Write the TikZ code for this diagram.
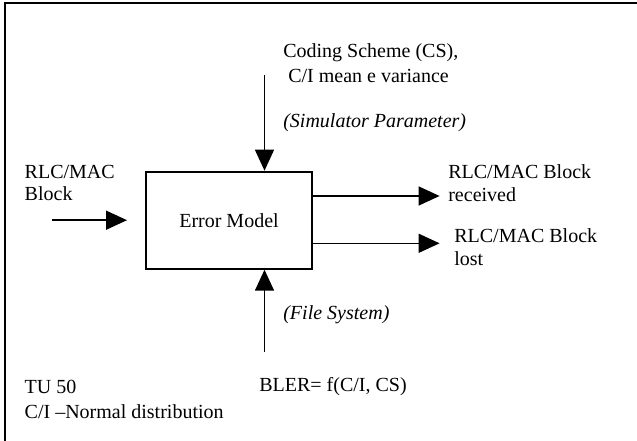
\documentclass[tikz,border=0pt]{standalone}
\usepackage{fontspec}
\setmainfont{Liberation Serif}
\usetikzlibrary{arrows.meta}
\usetikzlibrary{positioning}

\tikzset{
	flow/.style={line width=0.9pt,-{Triangle[length=12.6pt,width=11.4pt]}},
	txt/.style={anchor=west,inner sep=0pt,align=left,font=\fontsize{12}{13.6}\selectfont},
	errbox/.style={draw,line width=1.2pt,inner sep=0pt,minimum width=99.6pt,minimum height=58.2pt,font=\fontsize{12}{13.6}\selectfont}
}

\begin{document}
\begin{tikzpicture}
			[x=0.6pt,y=-0.6pt]
			\useasboundingbox (0,0) rectangle (637,441);
			% frame (only top and left edges show)
			\draw[line width=1.2pt] (5,441) -- (5,3.5) -- (637,3.5);
			
			\node[errbox] (model) at (229,220.2) {Error Model};
			
			\node[txt] (cs) at (283,63.4) {Coding Scheme (CS),\\[1.4pt]\hspace{3pt}C/I mean e variance};
			\node[txt] (sim) at (283,122.7) {\itshape (Simulator Parameter)};
			\node[txt] (blk) at (24.4,183) {RLC/MAC\\Block};
			\node[txt] (rcv) at (448,183) {RLC/MAC Block\\received};
			\node[txt] (lost) at (454,247) {RLC/MAC Block\\lost};
			\node[txt] (fs) at (283,314.3) {\itshape (File System)};
			\node[txt] (tu) at (24.4,399.5) {TU 50\\[1.6pt]C/I --Normal distribution};
			\node[txt] (bler) at (259,386.7) {BLER= f(C/I, CS)};
			
			\coordinate (top) at (264.5,75);
			\coordinate (bot) at (264.5,351.7);
			\coordinate (in1) at (51.6,220.2);
			\coordinate (in2) at (127,220.2);
			\coordinate (out1) at (439.6,196);
			\coordinate (out2) at (439.6,243.3);
			
			\draw[flow] (top) -- (top |- model.north);
			\draw[flow] (bot) -- (bot |- model.south);
			\draw[flow] (in1) -- (in2);
			\foreach \to in {out1,out2}
			\draw[flow] (\to -| model.east) -- (\to);
			\end{tikzpicture}
\end{document}
